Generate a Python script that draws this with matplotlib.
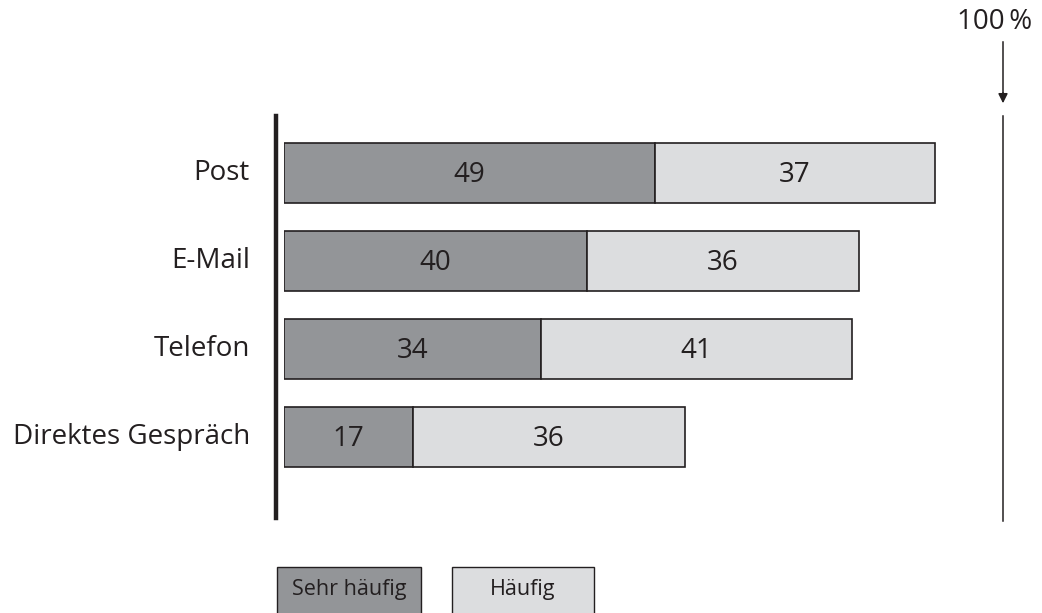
import matplotlib
matplotlib.use("Agg")
import matplotlib.pyplot as plt
from matplotlib.patches import Rectangle

categories = ["Post", "E-Mail", "Telefon", "Direktes Gespräch"]
sehr_haeufig = [49, 40, 34, 17]
haeufig = [37, 36, 41, 36]
series_names = ["Sehr häufig", "Häufig"]

plt.rcParams['font.family'] = ['Open Sans', 'DejaVu Sans']

W, H = 1042, 613
fig = plt.figure(figsize=(W / 100, H / 100), dpi=100)
# axes spans pixel x 284..1041 for data 0..100
x0, x1 = 284, 1041
ytop, ybot = 116, 518
ax = fig.add_axes([x0 / W, 1 - ybot / H, (x1 - x0) / W, (ybot - ytop) / H])
ax.set_xlim(0, 100)
ax.set_ylim(3.92, -0.648)
ax.axis('off')

dark = '#939598'
light = '#dcdddf'
edge = '#231f20'
bh = 0.69
ypos = list(range(len(categories)))
ax.barh(ypos, sehr_haeufig, height=bh, color=dark, edgecolor=edge, linewidth=1.2)
ax.barh(ypos, haeufig, left=sehr_haeufig, height=bh, color=light, edgecolor=edge, linewidth=1.2)
for y, cat, a, b in zip(ypos, categories, sehr_haeufig, haeufig):
    ax.text(a / 2, y + 0.02, str(a), ha='center', va='center', fontsize=20, color='#231f20')
    ax.text(a + b / 2, y + 0.02, str(b), ha='center', va='center', fontsize=20, color='#231f20')
    ax.text(-4.5, y, cat, ha='right', va='center', fontsize=20, color='#231f20')

# thick left axis line
fig.add_artist(plt.Line2D([276 / W, 276 / W], [1 - 116 / H, 1 - 518 / H], color='#231f20', lw=3.2))
# 100% reference line
xr = 1003 / W
fig.add_artist(plt.Line2D([xr, xr], [1 - 116 / H, 1 - 521 / H], color='#231f20', lw=1.1))
fig.add_artist(plt.Line2D([xr, xr], [1 - 42 / H, 1 - 95 / H], color='#231f20', lw=1.1))
ax.annotate('', xy=(xr, 1 - 106 / H), xytext=(xr, 1 - 90 / H), xycoords='figure fraction',
            arrowprops=dict(arrowstyle='-|>', color='#231f20', lw=1.1, mutation_scale=14))
fig.text(995 / W, 1 - 22 / H, '100\u2009%', ha='center', va='center', fontsize=20, color='#231f20')

# legend boxes
for (lx, lw_, col, name) in [(277, 144, dark, series_names[0]), (452, 142, light, series_names[1])]:
    fig.add_artist(Rectangle((lx / W, 1 - 614 / H), lw_ / W, 47 / H, transform=fig.transFigure,
                             facecolor=col, edgecolor=edge, linewidth=1.0))
    fig.text((lx + lw_ / 2) / W, 1 - 589 / H, name, ha='center', va='center', fontsize=15.5, color='#231f20')

fig.savefig('out.png', dpi=100)
